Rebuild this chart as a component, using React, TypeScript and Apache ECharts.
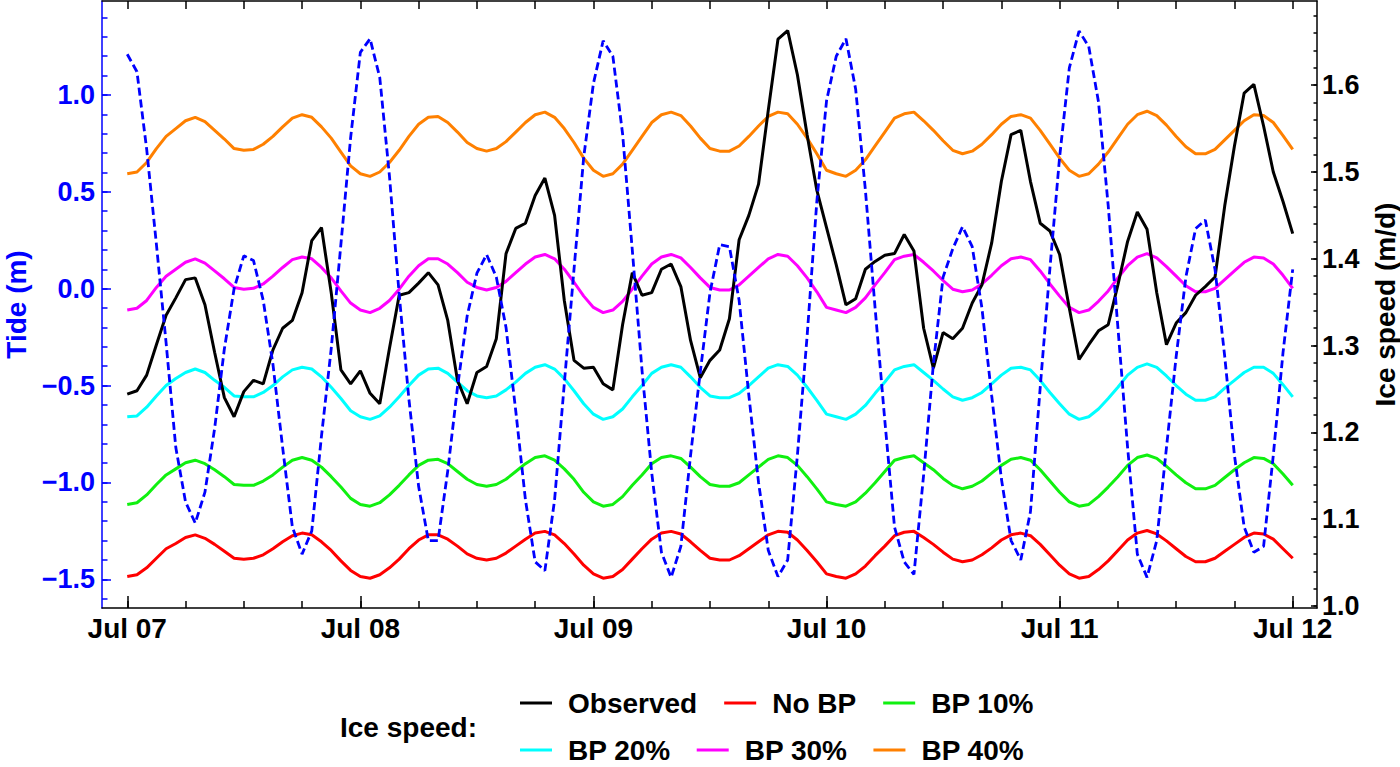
import React, { useEffect, useRef } from 'react';
import * as echarts from 'echarts';

// x is hours since Jul 07 00:00, one sample per hour
const dayTicks = [0, 24, 48, 72, 96, 120];
const dayLabels = ['Jul 07', 'Jul 08', 'Jul 09', 'Jul 10', 'Jul 11', 'Jul 12'];
const hourTicks = [0, 6, 12, 18, 24, 30, 36, 42, 48, 54, 60, 66, 72, 78, 84, 90, 96, 102, 108, 114, 120];

const tideTicks = [-1.5, -1.0, -0.5, 0.0, 0.5, 1.0];
const tideMinorTicks = [
  -1.6, -1.5, -1.4, -1.3, -1.2, -1.1, -1.0, -0.9, -0.8, -0.7, -0.6, -0.5, -0.4, -0.3, -0.2, -0.1,
  0.0, 0.1, 0.2, 0.3, 0.4, 0.5, 0.6, 0.7, 0.8, 0.9, 1.0, 1.1, 1.2, 1.3, 1.4,
];
const speedTicks = [1.0, 1.1, 1.2, 1.3, 1.4, 1.5, 1.6];
const speedMinorTicks = [
  1.0, 1.02, 1.04, 1.06, 1.08, 1.1, 1.12, 1.14, 1.16, 1.18, 1.2, 1.22, 1.24, 1.26, 1.28, 1.3, 1.32, 1.34,
  1.36, 1.38, 1.4, 1.42, 1.44, 1.46, 1.48, 1.5, 1.52, 1.54, 1.56, 1.58, 1.6, 1.62, 1.64, 1.66, 1.68,
];

// tide (m), left axis
const tide = [
  1.21, 1.12, 0.72, 0.23, -0.28, -0.82, -1.10, -1.21, -1.05, -0.72, -0.31, 0.00, 0.17, 0.145, -0.06, -0.39, -0.82, -1.23, -1.37, -1.25, -0.76, -0.31, 0.23, 0.78, 1.22,
  1.29, 1.09, 0.58, -0.03, -0.57, -1.02, -1.30, -1.30, -0.94, -0.51, -0.14, 0.08, 0.176, 0.06, -0.20, -0.63, -1.09, -1.41, -1.455, -1.09, -0.49, 0.10, 0.68, 1.06,
  1.28, 1.20, 0.80, 0.20, -0.42, -0.95, -1.36, -1.49, -1.33, -0.86, -0.43, -0.02, 0.227, 0.217, -0.06, -0.55, -1.00, -1.35, -1.486, -1.40, -0.86, -0.245, 0.45, 0.97, 1.20,
  1.29, 1.03, 0.51, -0.10, -0.68, -1.23, -1.41, -1.475, -0.96, -0.39, 0.06, 0.206, 0.32, 0.217, -0.10, -0.55, -0.98, -1.30, -1.40, -1.15, -0.51, 0.105, 0.68, 1.14,
  1.33, 1.25, 0.965, 0.43, -0.20, -0.82, -1.37, -1.49, -1.30, -0.82, -0.35, 0.06, 0.31, 0.355, 0.10, -0.35, -0.86, -1.23, -1.36, -1.33, -0.86, -0.33, 0.10,
];

// ice speed (m/d), right axis
const observed = [
  1.244, 1.248, 1.266, 1.301, 1.335, 1.355, 1.376, 1.378, 1.347, 1.292, 1.240, 1.218, 1.247, 1.260, 1.256, 1.295, 1.320, 1.329, 1.361, 1.421, 1.436, 1.361, 1.272, 1.256, 1.271,
  1.245, 1.233, 1.297, 1.358, 1.361, 1.372, 1.384, 1.370, 1.329, 1.260, 1.233, 1.269, 1.276, 1.308, 1.406, 1.435, 1.441, 1.473, 1.493, 1.450, 1.352, 1.283, 1.274, 1.275,
  1.256, 1.249, 1.324, 1.384, 1.358, 1.361, 1.388, 1.394, 1.368, 1.306, 1.263, 1.283, 1.295, 1.331, 1.422, 1.450, 1.486, 1.571, 1.653, 1.663, 1.612, 1.543, 1.479, 1.436, 1.393,
  1.347, 1.354, 1.388, 1.397, 1.404, 1.406, 1.428, 1.409, 1.320, 1.274, 1.315, 1.308, 1.320, 1.349, 1.370, 1.418, 1.489, 1.543, 1.548, 1.489, 1.441, 1.432, 1.405, 1.343,
  1.284, 1.301, 1.317, 1.324, 1.370, 1.420, 1.454, 1.434, 1.361, 1.301, 1.326, 1.338, 1.358, 1.368, 1.379, 1.461, 1.530, 1.591, 1.601, 1.553, 1.500, 1.466, 1.429,
];

const noBP = [
  1.034, 1.036, 1.044, 1.055, 1.066, 1.072, 1.079, 1.082, 1.078, 1.071, 1.063, 1.055, 1.054, 1.055, 1.059, 1.066, 1.074, 1.081, 1.084, 1.082, 1.074, 1.064, 1.052, 1.041, 1.034,
  1.032, 1.036, 1.044, 1.054, 1.066, 1.076, 1.082, 1.082, 1.077, 1.069, 1.060, 1.055, 1.053, 1.055, 1.061, 1.069, 1.077, 1.084, 1.086, 1.082, 1.072, 1.060, 1.047, 1.037,
  1.032, 1.034, 1.042, 1.054, 1.066, 1.077, 1.084, 1.086, 1.083, 1.074, 1.064, 1.055, 1.053, 1.053, 1.058, 1.066, 1.074, 1.082, 1.086, 1.085, 1.076, 1.064, 1.051, 1.037, 1.034,
  1.032, 1.037, 1.046, 1.058, 1.069, 1.081, 1.085, 1.086, 1.079, 1.071, 1.062, 1.054, 1.051, 1.053, 1.059, 1.067, 1.076, 1.082, 1.084, 1.081, 1.071, 1.059, 1.047, 1.037,
  1.032, 1.034, 1.042, 1.052, 1.064, 1.076, 1.084, 1.087, 1.083, 1.075, 1.066, 1.057, 1.051, 1.051, 1.055, 1.063, 1.071, 1.079, 1.084, 1.083, 1.077, 1.066, 1.055,
];

const bp10 = [
  1.117, 1.119, 1.128, 1.140, 1.151, 1.158, 1.165, 1.168, 1.164, 1.157, 1.149, 1.140, 1.139, 1.139, 1.144, 1.151, 1.160, 1.168, 1.171, 1.168, 1.160, 1.149, 1.137, 1.124, 1.117,
  1.115, 1.119, 1.128, 1.139, 1.151, 1.162, 1.168, 1.169, 1.164, 1.155, 1.146, 1.140, 1.138, 1.140, 1.146, 1.155, 1.164, 1.171, 1.173, 1.168, 1.158, 1.146, 1.131, 1.120,
  1.115, 1.117, 1.126, 1.139, 1.151, 1.164, 1.171, 1.173, 1.170, 1.160, 1.149, 1.140, 1.138, 1.138, 1.142, 1.151, 1.160, 1.169, 1.173, 1.171, 1.162, 1.149, 1.135, 1.120, 1.117,
  1.115, 1.120, 1.130, 1.142, 1.155, 1.168, 1.171, 1.173, 1.165, 1.157, 1.147, 1.139, 1.135, 1.138, 1.144, 1.153, 1.162, 1.169, 1.171, 1.168, 1.157, 1.144, 1.131, 1.120,
  1.115, 1.117, 1.126, 1.137, 1.149, 1.162, 1.171, 1.174, 1.170, 1.161, 1.151, 1.142, 1.135, 1.135, 1.139, 1.148, 1.157, 1.165, 1.171, 1.170, 1.164, 1.152, 1.139,
];

const bp20 = [
  1.218, 1.219, 1.229, 1.242, 1.254, 1.262, 1.269, 1.273, 1.269, 1.260, 1.252, 1.242, 1.241, 1.241, 1.246, 1.254, 1.264, 1.272, 1.275, 1.273, 1.264, 1.252, 1.239, 1.225, 1.218,
  1.215, 1.219, 1.229, 1.241, 1.254, 1.266, 1.273, 1.274, 1.268, 1.258, 1.248, 1.242, 1.240, 1.242, 1.249, 1.258, 1.268, 1.275, 1.278, 1.273, 1.262, 1.248, 1.233, 1.221,
  1.215, 1.218, 1.227, 1.241, 1.254, 1.268, 1.275, 1.278, 1.275, 1.264, 1.252, 1.242, 1.240, 1.240, 1.245, 1.254, 1.264, 1.274, 1.278, 1.276, 1.266, 1.252, 1.237, 1.221, 1.218,
  1.215, 1.221, 1.231, 1.245, 1.258, 1.272, 1.276, 1.278, 1.269, 1.260, 1.250, 1.241, 1.237, 1.240, 1.246, 1.256, 1.266, 1.274, 1.275, 1.272, 1.260, 1.246, 1.233, 1.221,
  1.215, 1.218, 1.227, 1.239, 1.252, 1.266, 1.275, 1.279, 1.275, 1.265, 1.254, 1.244, 1.237, 1.237, 1.241, 1.251, 1.260, 1.269, 1.275, 1.275, 1.268, 1.255, 1.241,
];

const bp30 = [
  1.341, 1.343, 1.352, 1.367, 1.380, 1.388, 1.396, 1.400, 1.395, 1.386, 1.377, 1.367, 1.365, 1.366, 1.371, 1.380, 1.390, 1.399, 1.402, 1.400, 1.390, 1.378, 1.363, 1.349, 1.341,
  1.338, 1.343, 1.352, 1.365, 1.380, 1.392, 1.400, 1.400, 1.394, 1.384, 1.373, 1.367, 1.364, 1.367, 1.374, 1.384, 1.394, 1.402, 1.405, 1.400, 1.388, 1.373, 1.357, 1.344,
  1.338, 1.341, 1.351, 1.365, 1.380, 1.394, 1.402, 1.405, 1.401, 1.390, 1.378, 1.367, 1.364, 1.364, 1.370, 1.380, 1.390, 1.400, 1.405, 1.403, 1.392, 1.378, 1.362, 1.344, 1.341,
  1.338, 1.344, 1.355, 1.370, 1.384, 1.399, 1.403, 1.405, 1.396, 1.386, 1.375, 1.365, 1.362, 1.364, 1.371, 1.381, 1.392, 1.400, 1.402, 1.399, 1.386, 1.371, 1.357, 1.344,
  1.338, 1.341, 1.351, 1.363, 1.378, 1.392, 1.402, 1.406, 1.401, 1.391, 1.380, 1.369, 1.362, 1.362, 1.366, 1.376, 1.386, 1.396, 1.402, 1.401, 1.394, 1.381, 1.366,
];

const bp40 = [
  1.498, 1.500, 1.511, 1.527, 1.541, 1.550, 1.559, 1.563, 1.558, 1.548, 1.538, 1.527, 1.525, 1.526, 1.532, 1.541, 1.552, 1.562, 1.566, 1.563, 1.552, 1.539, 1.523, 1.507, 1.498,
  1.495, 1.500, 1.511, 1.525, 1.541, 1.555, 1.563, 1.564, 1.557, 1.546, 1.534, 1.527, 1.524, 1.527, 1.535, 1.546, 1.557, 1.566, 1.569, 1.563, 1.550, 1.534, 1.516, 1.502,
  1.495, 1.498, 1.509, 1.525, 1.541, 1.557, 1.566, 1.569, 1.565, 1.553, 1.539, 1.527, 1.524, 1.524, 1.530, 1.541, 1.553, 1.564, 1.569, 1.567, 1.555, 1.539, 1.521, 1.502, 1.498,
  1.495, 1.502, 1.514, 1.530, 1.546, 1.562, 1.567, 1.569, 1.559, 1.548, 1.536, 1.525, 1.521, 1.524, 1.532, 1.543, 1.555, 1.564, 1.566, 1.562, 1.548, 1.532, 1.516, 1.502,
  1.495, 1.498, 1.509, 1.523, 1.539, 1.555, 1.566, 1.570, 1.565, 1.554, 1.541, 1.529, 1.521, 1.521, 1.526, 1.537, 1.548, 1.559, 1.566, 1.565, 1.557, 1.542, 1.526,
];

const speedNames = ['Observed', 'No BP', 'BP 10%', 'BP 20%', 'BP 30%', 'BP 40%'];
const speedColors = ['#000000', '#ff0000', '#10f010', '#00ffff', '#ff00ff', '#ff8000'];
const speedSeries = [observed, noBP, bp10, bp20, bp30, bp40];

const FONT = '"Liberation Sans", Arial, Helvetica, sans-serif';
const BLUE = '#0000ff';

export default function App() {
  const chartRef = useRef<HTMLDivElement>(null);

  useEffect(() => {
    if (!chartRef.current) return;
    document.body.style.margin = '0';
    const myChart = echarts.init(chartRef.current, null, { renderer: 'svg' });

    const toXY = (arr: number[]) => arr.map((v, i) => [i, v]);
    const fmtTide = (v: number) => (v < 0 ? '\u2212' : '') + Math.abs(v).toFixed(1);

    const xCommon = {
      type: 'value',
      min: -2.6,
      max: 122.5,
      splitLine: { show: false },
    };
    const tideRange = { min: -1.648, max: 1.485 };
    const speedRange = { min: 0.9977, max: 1.697 };

    const legendText = {
      fontFamily: FONT,
      fontWeight: 'bold',
      fontSize: 28,
      color: '#000',
      padding: [0, 0, 0, 11],
    };

    const option = {
      animation: false,
      backgroundColor: '#ffffff',
      grid: { left: 102, right: 83, top: 1, bottom: 159, containLabel: false, outerBoundsMode: 'none' },
      xAxis: [
        {
          ...xCommon,
          position: 'bottom',
          axisLine: { show: true, onZero: false, lineStyle: { color: '#000', width: 1.5 } },
          axisTick: { show: true, inside: true, length: 12, customValues: dayTicks, lineStyle: { color: '#000', width: 1.5 } },
          axisLabel: {
            show: true,
            customValues: dayTicks,
            margin: 6,
            formatter: (v: number) => dayLabels[dayTicks.indexOf(Math.round(v))] ?? '',
            fontFamily: FONT,
            fontWeight: 'bold',
            fontSize: 28,
            color: '#000',
          },
        },
        {
          ...xCommon,
          position: 'bottom',
          axisLine: { show: false, onZero: false },
          axisTick: { show: true, inside: true, length: 7, customValues: hourTicks, lineStyle: { color: '#000', width: 1.5 } },
          axisLabel: { show: false },
        },
        {
          ...xCommon,
          position: 'top',
          axisLine: { show: true, onZero: false, lineStyle: { color: '#000', width: 1.5 } },
          axisTick: { show: true, inside: true, length: 8, customValues: hourTicks, lineStyle: { color: '#000', width: 1.5 } },
          axisLabel: { show: false },
        },
      ],
      yAxis: [
        {
          type: 'value',
          position: 'left',
          ...tideRange,
          name: 'Tide (m)',
          nameLocation: 'middle',
          nameGap: 72,
          nameTextStyle: { fontFamily: FONT, fontWeight: 'bold', fontSize: 28, color: BLUE },
          splitLine: { show: false },
          axisLine: { show: true, onZero: false, lineStyle: { color: BLUE, width: 1.5 } },
          axisTick: { show: true, inside: true, length: 9, customValues: tideTicks, lineStyle: { color: BLUE, width: 1.5 } },
          axisLabel: {
            show: true,
            customValues: tideTicks,
            margin: 7,
            formatter: fmtTide,
            fontFamily: FONT,
            fontWeight: 'bold',
            fontSize: 27,
            color: BLUE,
          },
        },
        {
          type: 'value',
          position: 'left',
          ...tideRange,
          splitLine: { show: false },
          axisLine: { show: false, onZero: false },
          axisTick: { show: true, inside: true, length: 5.5, customValues: tideMinorTicks, lineStyle: { color: BLUE, width: 1.5 } },
          axisLabel: { show: false },
        },
        {
          type: 'value',
          position: 'right',
          ...speedRange,
          name: 'Ice speed (m/d)',
          nameLocation: 'middle',
          nameGap: 54,
          nameTextStyle: { fontFamily: FONT, fontWeight: 'bold', fontSize: 28, color: '#000' },
          splitLine: { show: false },
          axisLine: { show: true, onZero: false, lineStyle: { color: '#000', width: 1.5 } },
          axisTick: { show: true, inside: true, length: 6, customValues: speedTicks, lineStyle: { color: '#000', width: 1.5 } },
          axisLabel: {
            show: true,
            customValues: speedTicks,
            margin: 5,
            formatter: (v: number) => v.toFixed(1),
            fontFamily: FONT,
            fontWeight: 'bold',
            fontSize: 27,
            color: '#000',
          },
        },
        {
          type: 'value',
          position: 'right',
          ...speedRange,
          splitLine: { show: false },
          axisLine: { show: false, onZero: false },
          axisTick: { show: true, inside: true, length: 3.5, customValues: speedMinorTicks, lineStyle: { color: '#000', width: 1.5 } },
          axisLabel: { show: false },
        },
      ],
      legend: [
        {
          left: 515,
          top: 684,
          itemWidth: 32,
          itemHeight: 3,
          itemGap: 27,
          icon: 'rect',
          data: speedNames.slice(0, 3),
          textStyle: legendText,
        },
        {
          left: 515,
          top: 731,
          itemWidth: 32,
          itemHeight: 3,
          itemGap: 26,
          icon: 'rect',
          data: speedNames.slice(3),
          textStyle: legendText,
        },
      ],
      graphic: [
        {
          type: 'text',
          left: 340,
          top: 713,
          style: {
            text: 'Ice speed:',
            fontFamily: FONT,
            fontWeight: 'bold',
            fontSize: 28,
            fill: '#000',
          },
        },
      ],
      series: [
        ...speedSeries.slice(1).map((arr, k) => ({
          name: speedNames[k + 1],
          type: 'line',
          xAxisIndex: 0,
          yAxisIndex: 2,
          data: toXY(arr),
          showSymbol: false,
          symbol: 'none',
          color: speedColors[k + 1],
          lineStyle: { color: speedColors[k + 1], width: 3 },
          z: 3,
        })),
        {
          name: 'Observed',
          type: 'line',
          xAxisIndex: 0,
          yAxisIndex: 2,
          data: toXY(observed),
          showSymbol: false,
          symbol: 'none',
          color: '#000000',
          lineStyle: { color: '#000000', width: 3 },
          z: 4,
        },
        {
          name: 'Tide',
          type: 'line',
          xAxisIndex: 0,
          yAxisIndex: 0,
          data: toXY(tide),
          showSymbol: false,
          symbol: 'none',
          color: BLUE,
          lineStyle: { color: BLUE, width: 2.8, type: [8, 4] },
          z: 5,
        },
      ],
    };

    myChart.setOption(option as any);

    const handleResize = () => myChart.resize();
    window.addEventListener('resize', handleResize);
    return () => {
      window.removeEventListener('resize', handleResize);
      myChart.dispose();
    };
  }, []);

  return <div ref={chartRef} style={{ width: '1400px', height: '767px' }} />;
}
